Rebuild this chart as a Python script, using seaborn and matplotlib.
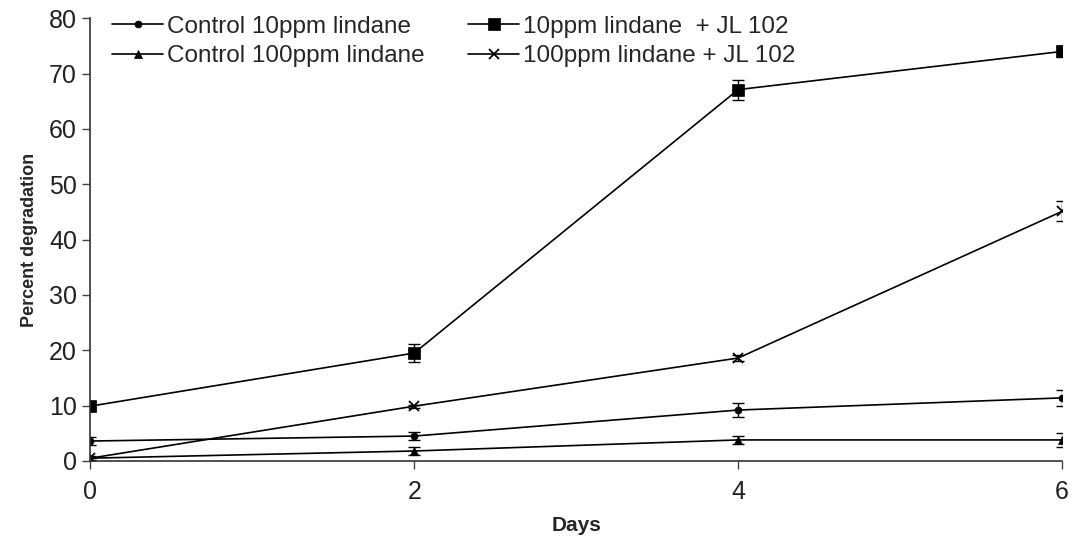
import matplotlib
matplotlib.use("Agg")
import matplotlib.pyplot as plt
import numpy as np
import pandas as pd
import seaborn as sns

days = [0, 2, 4, 6]
series_names = [
    "Control 10ppm lindane",
    "10ppm lindane  + JL 102",
    "Control 100ppm lindane",
    "100ppm lindane + JL 102",
]
ctrl_10 = [3.6, 4.5, 9.2, 11.4]
ctrl_10_err = [0.8, 0.8, 1.3, 1.5]
jl_10 = [9.9, 19.5, 67.1, 74.0]
jl_10_err = [0.5, 1.7, 1.8, 1.0]
ctrl_100 = [0.5, 1.8, 3.8, 3.8]
ctrl_100_err = [0.4, 0.8, 0.8, 1.2]
jl_100 = [0.5, 9.9, 18.6, 45.1]
jl_100_err = [0.3, 0.3, 0.6, 1.8]

values = [ctrl_10, jl_10, ctrl_100, jl_100]
errors = [ctrl_10_err, jl_10_err, ctrl_100_err, jl_100_err]
markers = ["o", "s", "^", "x"]
msizes = [5, 8, 6, 7]

df = pd.DataFrame(
    [
        {"Days": d, "pct": v, "err": e, "series": name}
        for name, vals, errs in zip(series_names, values, errors)
        for d, v, e in zip(days, vals, errs)
    ]
)

sns.set_style("ticks")
plt.rcParams["font.family"] = ["Liberation Sans", "DejaVu Sans"]

fig = plt.figure(figsize=(10.75, 5.36), dpi=100)
ax = fig.add_axes([0.084, 0.14, 0.904, 0.826])

for name, m, ms in zip(series_names, markers, msizes):
    sub = df[df["series"] == name]
    sns.lineplot(
        data=sub, x="Days", y="pct", ax=ax, color="black", linewidth=1.2,
        marker=m, markersize=ms, markeredgecolor="black", markeredgewidth=1.3 if m == "x" else 0.5,
        label=name, errorbar=None,
    )
    ax.errorbar(sub["Days"], sub["pct"], yerr=sub["err"], fmt="none",
                ecolor="black", elinewidth=1.0, capsize=4, capthick=1.0)

ax.set_xlim(0, 6)
ax.set_ylim(0, 80)
ax.set_xticks([0, 2, 4, 6])
ax.set_yticks(np.arange(0, 81, 10))
ax.tick_params(axis="both", labelsize=18, length=6, width=1.0, color="#444444", labelcolor="#222222")
ax.tick_params(axis="x", pad=8)
ax.set_xlabel("Days", fontsize=15, fontweight="bold", labelpad=8)
ax.set_ylabel("Percent degradation", fontsize=13, fontweight="bold", labelpad=8)
for side in ["top", "right"]:
    ax.spines[side].set_visible(False)
for side in ["left", "bottom"]:
    ax.spines[side].set_linewidth(1.2)
    ax.spines[side].set_color("#333333")

# legend fills column-wise, so reorder to read row-wise like the original
handles, labels = ax.get_legend_handles_labels()
order = [0, 2, 1, 3]
ax.legend(
    [handles[i] for i in order], [labels[i] for i in order],
    loc="upper left", bbox_to_anchor=(0.0, 1.055), ncol=2, frameon=False,
    fontsize=17.5, handlelength=2.1, handletextpad=0.15, columnspacing=1.8,
    labelspacing=0.3,
)

fig.savefig("out.png", dpi=100)
